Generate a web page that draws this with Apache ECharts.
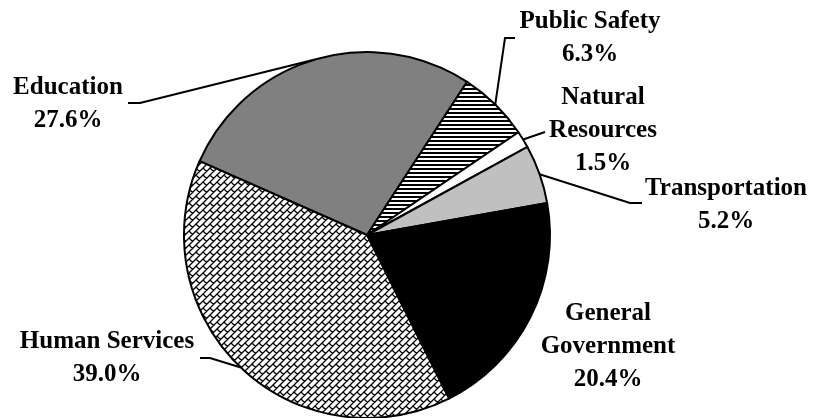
<!DOCTYPE html>
<html>
<head>
<meta charset="utf-8">
<script src="https://cdn.jsdelivr.net/npm/echarts@6/dist/echarts.min.js"></script>
<style>
  html, body { margin: 0; padding: 0; background: #fff; }
  #chart { width: 818px; height: 418px; }
</style>
</head>
<body>
<div id="chart"></div>
<script>
// slice order, clockwise from the Education / Human Services edge
var categories = ['Education', 'Public Safety', 'Natural Resources', 'Transportation', 'General Government', 'Human Services'];
var labelNames = ['Education', 'Public Safety', 'Natural\nResources', 'Transportation', 'General\nGovernment', 'Human Services'];
var shares = [27.6, 6.3, 1.5, 5.2, 20.4, 39.0];

// horizontal stripes
function stripePattern() {
  var c = document.createElement('canvas');
  c.width = 4; c.height = 4;
  var g = c.getContext('2d');
  g.fillStyle = '#fff';
  g.fillRect(0, 0, 4, 4);
  g.fillStyle = '#000';
  g.fillRect(0, 0, 4, 2);
  return c;
}

// diagonal brick / shingle pattern
function brickPattern() {
  var p = 7, t = 14;
  var c = document.createElement('canvas');
  c.width = t; c.height = t;
  var g = c.getContext('2d');
  g.fillStyle = '#fff';
  g.fillRect(0, 0, t, t);
  g.strokeStyle = '#000';
  g.lineWidth = 1.3;
  g.beginPath();
  var k, d;
  for (k = -4; k <= 8; k++) {
    var s = p * k;
    g.moveTo(s - 40, 40);
    g.lineTo(s + 40, -40);
  }
  for (k = -4; k <= 8; k++) {
    var off = (((k % 2) + 2) % 2) * p;
    for (d = off - 4 * p; d <= 4 * p; d += 2 * p) {
      g.moveTo((p * k + d) / 2, (p * k - d) / 2);
      g.lineTo((p * k + p + d) / 2, (p * k + p - d) / 2);
    }
  }
  g.stroke();
  return c;
}

var fills = [
  '#808080',
  { image: stripePattern(), repeat: 'repeat' },
  '#ffffff',
  '#c0c0c0',
  '#000000',
  { image: brickPattern(), repeat: 'repeat' }
];

// label block centres and leader-line bends, relative to the label centre
var labelSpots = [
  { x: 68, y: 104, line: [[72, -1], [60, -1]] },
  { x: 590, y: 38, line: [[-85, 0], [-75, 0]] },
  { x: 603, y: 131, line: [[-58, 1]] },
  { x: 726, y: 205, line: [[-96, -2], [-84, -2]] },
  { x: 608, y: 347, line: null },
  { x: 107, y: 358, line: [[103, 0], [93, 0]] }
];

var chart = echarts.init(document.getElementById('chart'));

chart.setOption({
  animation: false,
  backgroundColor: '#fff',
  series: [{
    type: 'pie',
    center: [367, 235],
    radius: 183,
    startAngle: 156.2,
    clockwise: true,
    avoidLabelOverlap: false,
    itemStyle: { borderColor: '#000', borderWidth: 2 },
    emphasis: { disabled: true },
    label: {
      show: true,
      position: 'outside',
      fontFamily: 'Liberation Serif',
      fontWeight: 'bold',
      fontSize: 25,
      lineHeight: 33,
      color: '#000',
      formatter: function (p) {
        return labelNames[p.dataIndex] + '\n' + shares[p.dataIndex].toFixed(1) + '%';
      }
    },
    labelLine: {
      show: true,
      length: 10,
      length2: 10,
      lineStyle: { color: '#000', width: 2 }
    },
    labelLayout: function (params) {
      var spot = labelSpots[params.dataIndex];
      var out = { x: spot.x, y: spot.y, align: 'center', verticalAlign: 'middle' };
      var pts = params.labelLinePoints;
      if (pts && pts.length) {
        var start = pts[0];
        if (spot.line) {
          out.labelLinePoints = [start].concat(spot.line.map(function (q) {
            return [spot.x + q[0], spot.y + q[1]];
          }));
        } else {
          out.labelLinePoints = [start, start];
        }
      }
      return out;
    },
    data: categories.map(function (name, i) {
      return { name: name, value: shares[i], itemStyle: { color: fills[i] } };
    })
  }]
});
</script>
</body>
</html>
